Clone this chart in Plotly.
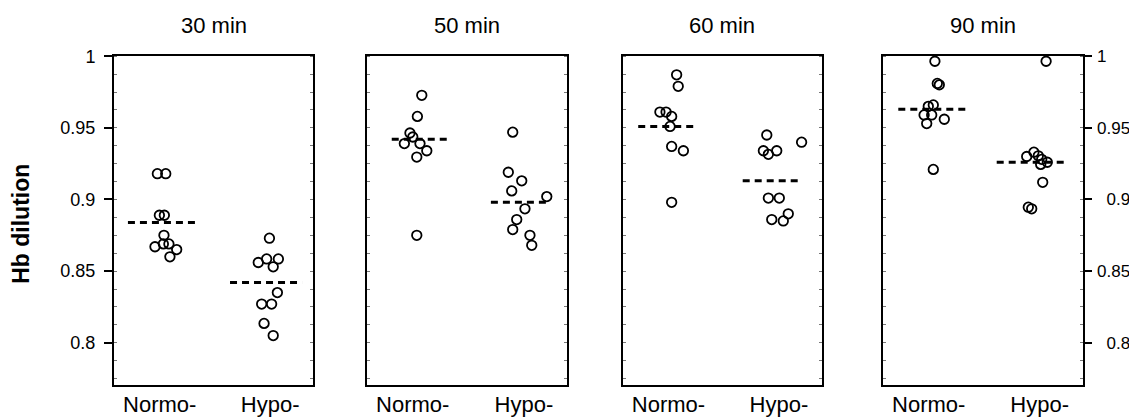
import plotly.graph_objects as go

# ---------------- data ----------------
times = ["30 min", "50 min", "60 min", "90 min"]
groups = ["Normo-", "Hypo-"]
y_tick_vals = [0.8, 0.85, 0.9, 0.95, 1.0]
y_tick_text = ["0.8", "0.85", "0.9", "0.95", "1"]

normo_30 = [0.918, 0.918, 0.889, 0.889, 0.875, 0.867, 0.869, 0.869, 0.865, 0.860]
hypo_30 = [0.873, 0.856, 0.8585, 0.8585, 0.853, 0.835, 0.827, 0.827, 0.8135, 0.805]
normo_50 = [0.9727, 0.958, 0.9464, 0.9436, 0.939, 0.939, 0.934, 0.9296, 0.875]
hypo_50 = [0.947, 0.919, 0.913, 0.906, 0.902, 0.8935, 0.886, 0.879, 0.875, 0.868]
normo_60 = [0.987, 0.979, 0.961, 0.961, 0.958, 0.951, 0.937, 0.934, 0.898]
hypo_60 = [0.945, 0.940, 0.934, 0.934, 0.9315, 0.901, 0.901, 0.890, 0.886, 0.885]
normo_90 = [0.9965, 0.980, 0.981, 0.966, 0.965, 0.959, 0.959, 0.956, 0.953, 0.921]
hypo_90 = [0.9965, 0.933, 0.930, 0.9305, 0.928, 0.926, 0.9245, 0.912, 0.8946, 0.8935]

# group means (dashed lines)
normo_mean = [0.884, 0.942, 0.951, 0.963]
hypo_mean = [0.842, 0.898, 0.913, 0.926]

# horizontal jitter of each point (offset from group centre)
jit_normo_30 = [-0.032, 0.010, -0.022, 0.003, 0.001, -0.044, -0.002, 0.026, 0.065, 0.031]
jit_hypo_30 = [0.011, -0.045, -0.003, 0.056, 0.030, 0.051, -0.028, 0.022, -0.016, 0.030]
jit_normo_50 = [0.025, 0.003, -0.034, -0.020, -0.062, 0.016, 0.050, 0.000, 0.000]
jit_hypo_50 = [-0.041, -0.063, 0.004, -0.046, 0.129, 0.020, -0.021, -0.041, 0.045, 0.054]
jit_normo_60 = [0.021, 0.029, -0.063, -0.032, -0.004, -0.012, -0.004, 0.055, -0.004]
jit_hypo_60 = [-0.046, 0.129, -0.063, 0.004, -0.038, -0.038, 0.017, 0.062, -0.021, 0.037]
jit_normo_90 = [0.011, 0.033, 0.023, 0.003, -0.022, -0.005, -0.043, 0.058, -0.030, 0.003]
jit_hypo_90 = [0.047, -0.014, -0.050, 0.008, 0.025, 0.053, 0.020, 0.030, -0.042, -0.025]

normo_vals = [normo_30, normo_50, normo_60, normo_90]
hypo_vals = [hypo_30, hypo_50, hypo_60, hypo_90]
normo_jit = [jit_normo_30, jit_normo_50, jit_normo_60, jit_normo_90]
hypo_jit = [jit_hypo_30, jit_hypo_50, jit_hypo_60, jit_hypo_90]

# ---------------- layout constants ----------------
OFF = 8  # page body margin of the html page
W, H = 1137 - OFF, 418 - OFF
FONT = "Arial, Liberation Sans, sans-serif"


def fx(px):
    return (px - OFF) / W


def fy(py):
    return 1 - (py - OFF) / H


panel_px = [(114, 313), (366.7, 567), (622.7, 821.7), (882.7, 1082.7)]
y_dom = [fy(385), fy(55.5)]
y_range = [0.7705, 1.0005]
centers = [0.25, 0.77]
label_pos = [0.23, 0.785]
# dashed mean line extents per panel (normo, hypo)
line_ext = [
    [(0.07, 0.427), (0.583, 0.945)],
    [(0.125, 0.42), (0.62, 0.915)],
    [(0.078, 0.374), (0.603, 0.902)],
    [(0.078, 0.433), (0.57, 0.92)],
]

fig = go.Figure()

marker = dict(symbol="circle-open", size=9.5, color="black", line=dict(width=1.8, color="black"))
dash_line = dict(color="black", width=3, dash="7px,5px")

for i in range(4):
    xa = "x" if i == 0 else f"x{i + 1}"
    ya = "y" if i == 0 else f"y{i + 1}"
    means = [normo_mean[i], hypo_mean[i]]
    for g in range(2):
        x0, x1 = line_ext[i][g]
        fig.add_trace(go.Scatter(x=[x0, x1], y=[means[g], means[g]], mode="lines",
                                 line=dash_line, xaxis=xa, yaxis=ya, hoverinfo="skip"))
    for g, (vals, jits) in enumerate([(normo_vals[i], normo_jit[i]), (hypo_vals[i], hypo_jit[i])]):
        fig.add_trace(go.Scatter(x=[centers[g] + j for j in jits], y=vals, mode="markers",
                                 marker=marker, xaxis=xa, yaxis=ya, name=groups[g]))
    # invisible trace for the overlaying right axis
    fig.add_trace(go.Scatter(x=[None], y=[None], xaxis=xa, yaxis=f"y{i + 5}",
                             showlegend=False, hoverinfo="skip"))

layout = dict(
    width=W, height=H, margin=dict(l=0, r=0, t=0, b=0),
    paper_bgcolor="white", plot_bgcolor="white", showlegend=False,
    template="none", font=dict(family=FONT, color="black"),
)

minor = dict(ticks="inside", ticklen=3, tickwidth=1, tickcolor="#777", dtick=0.0125, tick0=0.8, showgrid=False)

# right-hand labels: short ones are pushed right by an invisible-width pad
PAD = "\u200b\u00a0\u00a0"
right_text = [PAD + t if len(t) == 3 else t for t in y_tick_text]

annotations = []
for i in range(4):
    sfx = "" if i == 0 else str(i + 1)
    x0p, x1p = panel_px[i]
    layout[f"xaxis{sfx}"] = dict(
        domain=[fx(x0p), fx(x1p)], range=[0, 1], anchor=f"y{sfx}",
        showline=True, linewidth=2, linecolor="black", mirror=True,
        ticks="", showgrid=False, zeroline=False,
        tickvals=label_pos, ticktext=groups, tickfont=dict(size=22, family=FONT),
        ticklabelstandoff=-1,
    )
    layout[f"yaxis{sfx}"] = dict(
        domain=y_dom, range=y_range, anchor=f"x{sfx}",
        showline=True, linewidth=2, linecolor="black", mirror=True,
        showgrid=False, zeroline=False,
        tickvals=y_tick_vals, ticktext=y_tick_text,
        showticklabels=(i == 0), ticks="outside" if i == 0 else "",
        ticklen=8, tickwidth=2, tickcolor="black", ticklabelstandoff=5,
        tickfont=dict(size=18, family=FONT), minor=minor,
    )
    layout[f"yaxis{i + 5}"] = dict(
        domain=y_dom, range=y_range, anchor=f"x{sfx}", overlaying=f"y{sfx}", side="right",
        showline=False, showgrid=False, zeroline=False,
        tickvals=y_tick_vals, ticktext=right_text,
        showticklabels=(i == 3), ticks="outside" if i == 3 else "",
        ticklen=8, tickwidth=2, tickcolor="black", ticklabelstandoff=2,
        tickfont=dict(size=17, family=FONT), minor=minor,
    )
    annotations.append(dict(
        text=times[i], x=fx((x0p + x1p) / 2), y=fy(25.5), xref="paper", yref="paper",
        xanchor="center", yanchor="middle", showarrow=False, font=dict(size=22, family=FONT),
    ))

annotations.append(dict(
    text="<b>Hb dilution</b>", x=fx(20.8), y=fy(224), xref="paper", yref="paper",
    xanchor="center", yanchor="middle", textangle=-90, showarrow=False,
    font=dict(size=23, family=FONT),
))
layout["annotations"] = annotations

fig.update_layout(**layout)
fig.write_html("out.html", post_script="document.body.style.overflow='hidden';")
